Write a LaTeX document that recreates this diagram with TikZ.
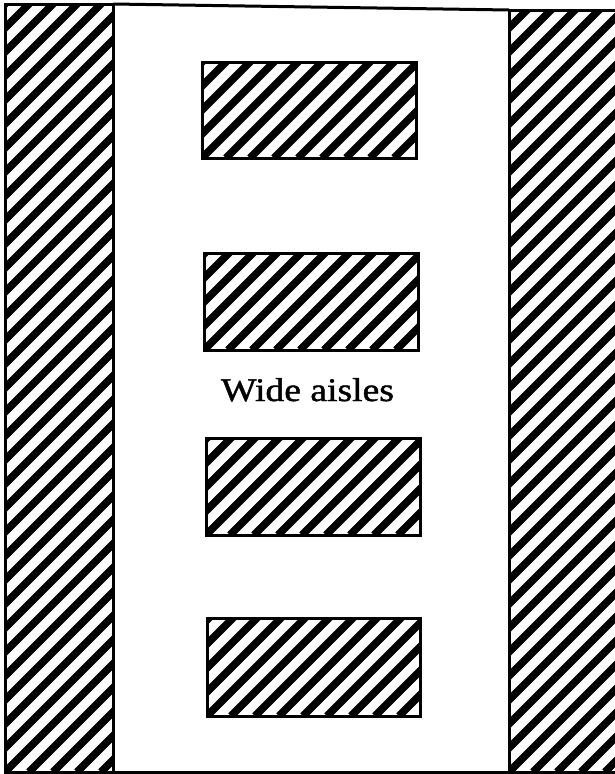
\documentclass[tikz,border=0pt]{standalone}
\usepackage{fontspec}
\setmainfont{Liberation Serif}
\newfontfamily\labelfont[FakeBold=1.2]{Liberation Serif}
\begin{document}
\begin{tikzpicture}[x=1pt,y=-1pt,
  hatch/.style={draw, line width=3pt, inner sep=0pt, outer sep=0pt,
    path picture={\foreach \k in {-40,...,14}{\draw[line width=7.5pt]
      ([xshift={\k*24pt}]path picture bounding box.south west) -- ++(900pt,900pt);}}},
  rule/.style={line width=3pt}]
\useasboundingbox[fill=white] (0,0) rectangle (614,774);
\node[hatch, minimum width=108pt, minimum height=768pt] (lcol) at (59,388) {};
\node[hatch, minimum width=111pt, minimum height=762pt] (rcol) at (564.5,391) {};
\node[hatch, minimum width=214pt, minimum height=96pt] (r1) at (309,110) {};
\node[hatch, minimum width=214pt, minimum height=97pt] (r2) at (311,301.5) {};
\node[hatch, minimum width=214pt, minimum height=97pt] (r3) at (313,486.5) {};
\node[hatch, minimum width=213pt, minimum height=98pt] (r4) at (313.5,667) {};
\draw[rule] (lcol.north east) -- (rcol.north west);
\draw[rule] (lcol.south east) -- (rcol.south west);
\node[anchor=base, inner sep=0pt, xscale=1.14, font=\labelfont\fontsize{33}{38}\selectfont] (label) at (307.5,401) {Wide aisles};
\end{tikzpicture}
\end{document}
